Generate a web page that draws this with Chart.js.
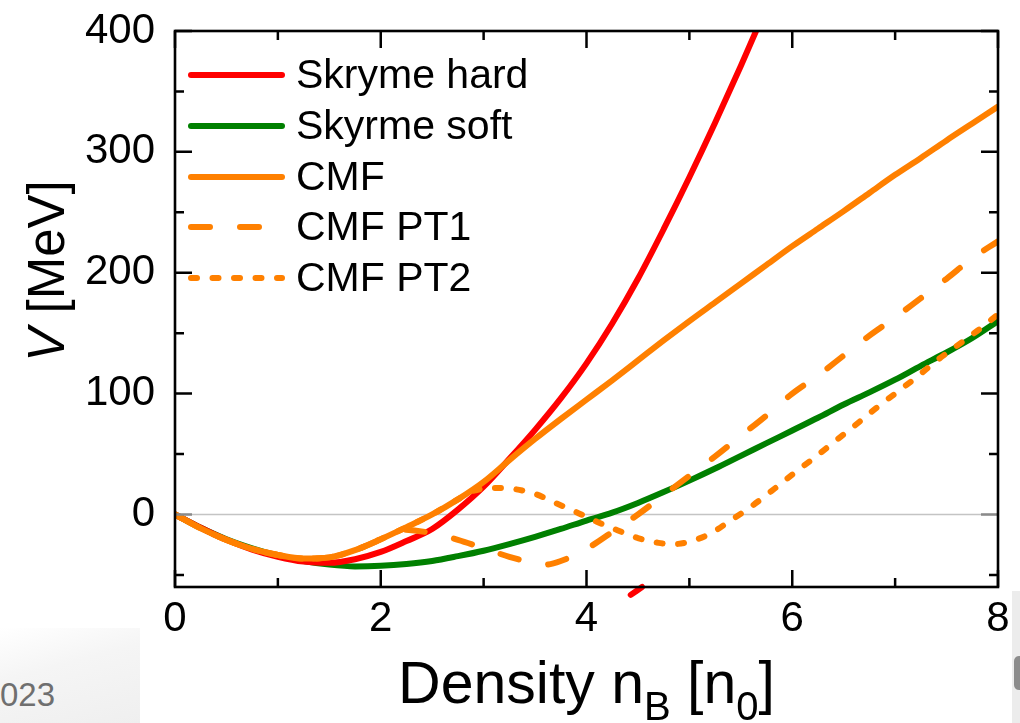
<!DOCTYPE html>
<html>
<head>
<meta charset="utf-8">
<title>Potential V vs density</title>
<script src="https://cdn.jsdelivr.net/npm/chart.js@4.4.1/dist/chart.umd.min.js"></script>
<style>
  html, body { margin: 0; padding: 0; background: #ffffff; }
  #wrap { position: relative; width: 1020px; height: 723px; overflow: hidden; }
  #wrap canvas { position: absolute; left: 0; top: 0; }
  .corner { position: absolute; left: 0; top: 628px; width: 140px; height: 95px;
            background: linear-gradient(165deg, #ffffff 0%, #f5f5f5 40%, #efefef 100%); }
  .year { position: absolute; left: 0; top: 676px; font: 33px 'Liberation Sans', Arial, sans-serif; color: #6f6f6f; }
  .edge { position: absolute; left: 1012px; top: 591px; width: 8px; height: 132px; background: #ececec; }
  .knob { position: absolute; left: 1014px; top: 656px; width: 10px; height: 34px; border-radius: 5px; background: #8c8c8c; }
</style>
</head>
<body>
<div id="wrap">
  <div class="corner"></div>
  <div class="year">023</div>
  <div class="edge"></div>
  <div class="knob"></div>
  <canvas id="chart" width="1020" height="723"></canvas>
</div>
<script>
// Axis tick values
const densityTicks = [0, 2, 4, 6, 8];
const densityMinorTicks = [1, 3, 5, 7];
const potentialTicks = [0, 100, 200, 300, 400];
const potentialMinorTicks = [-50, 50, 150, 250, 350];

// Skyrme hard
const hardX = [0, 0.25, 0.5, 0.75, 1, 1.25, 1.5, 1.75, 2, 2.25, 2.5, 2.75, 3, 3.25, 3.5, 3.75, 4, 4.25, 4.5, 4.75, 5, 5.25, 5.5, 5.75];
const hardV = [0, -11, -21, -29, -35, -39, -40, -37, -31, -22, -12, 4, 23, 46, 70, 96, 125, 158, 195, 236, 279, 324, 371, 420];

// Skyrme hard, lower branch just below the frame
const hardLowX = [4.43, 4.54];
const hardLowV = [-66.5, -60];

// Skyrme soft
const softX = [0, 0.25, 0.5, 0.75, 1, 1.25, 1.5, 1.75, 2, 2.25, 2.5, 2.75, 3, 3.25, 3.5, 3.75, 4, 4.25, 4.5, 4.75, 5, 5.25, 5.5, 5.75, 6, 6.25, 6.5, 6.75, 7, 7.25, 7.5, 7.75, 8];
const softV = [0, -11, -20.5, -28, -34, -38.5, -41.5, -43, -42.5, -41, -38.5, -34.5, -30, -24.5, -18.5, -12, -5, 1.5, 9.5, 18.5, 28, 38, 48.5, 59, 69.5, 80, 91, 101, 111.5, 123, 134, 146, 160];

// CMF
const cmfX = [0, 0.25, 0.5, 0.75, 1, 1.25, 1.5, 1.75, 2, 2.25, 2.5, 2.75, 3, 3.25, 3.5, 3.75, 4, 4.25, 4.5, 4.75, 5, 5.25, 5.5, 5.75, 6, 6.25, 6.5, 6.75, 7, 7.25, 7.5, 7.75, 8];
const cmfV = [0, -11.5, -21, -28.5, -33.5, -36.5, -35.5, -29.5, -20.5, -10.5, 0, 12.5, 27, 45, 62.5, 79, 95, 111, 127.5, 144, 160, 175.5, 191, 206.5, 222, 236.5, 251, 266, 281, 295, 309.5, 323.5, 337.5];

// CMF with phase transition 1
const pt1X = [0, 0.25, 0.5, 0.75, 1, 1.25, 1.5, 1.75, 2, 2.2, 2.5, 2.75, 3, 3.25, 3.5, 3.6, 3.75, 4, 4.25, 4.5, 4.75, 5, 5.25, 5.5, 5.75, 6, 6.25, 6.5, 6.75, 7, 7.25, 7.5, 7.75, 8];
const pt1V = [0, -11.5, -21, -28.5, -33.5, -36.5, -35.5, -29.5, -20.5, -12.5, -15.5, -21, -28, -35, -40.5, -41.5, -38.5, -28.5, -14.5, 0, 16, 32, 48, 65, 82, 100, 115, 131.5, 148, 163, 179, 195, 212, 226];

// CMF with phase transition 2
const pt2X = [0, 0.25, 0.5, 0.75, 1, 1.25, 1.5, 1.75, 2, 2.25, 2.5, 2.75, 2.9, 3.1, 3.3, 3.5, 3.7, 3.9, 4.1, 4.3, 4.5, 4.7, 4.85, 5, 5.2, 5.4, 5.6, 5.8, 6, 6.2, 6.4, 6.6, 6.8, 7, 7.2, 7.4, 7.6, 7.8, 8];
const pt2V = [0, -11.5, -21, -28.5, -33.5, -36.5, -35.5, -29.5, -20.5, -10.5, 0, 12.5, 19.5, 22, 21, 17, 9.5, 2, -6, -13, -19.5, -23.5, -24.5, -22.5, -16, -5, 6.5, 19.5, 33, 46, 59.5, 73, 87, 100, 113, 127, 139.5, 152, 165.5];

const RED = '#ff0000';
const GREEN = '#008000';
const ORANGE = '#ff8000';
const FONT = "'Liberation Sans', Arial, Helvetica, sans-serif";
const LINE_W = 6;

const pts = (xs, ys) => xs.map((x, i) => ({ x: x, y: ys[i] }));

const datasets = [
  { label: 'Skryme hard', data: pts(hardX, hardV), borderColor: RED, order: 4, inLegend: true },
  { label: 'Skyrme soft', data: pts(softX, softV), borderColor: GREEN, order: 5, inLegend: true },
  { label: 'CMF', data: pts(cmfX, cmfV), borderColor: ORANGE, order: 1, inLegend: true },
  { label: 'CMF PT1', data: pts(pt1X, pt1V), borderColor: ORANGE, borderDash: [19, 30], order: 2, inLegend: true },
  { label: 'CMF PT2', data: pts(pt2X, pt2V), borderColor: ORANGE, borderDash: [6, 15.5], order: 3, inLegend: true },
  { label: 'Skryme hard (lower branch)', data: pts(hardLowX, hardLowV), borderColor: RED, order: 6, inLegend: false,
    clip: { left: 0, right: 0, top: 0, bottom: 20 } }
];
datasets.forEach(d => {
  d.borderWidth = LINE_W;
  d.fill = false;
  d.pointRadius = 0;
  d.cubicInterpolationMode = 'monotone';
  d.borderCapStyle = 'round';
  d.borderJoinStyle = 'round';
});

// Zero reference line, boxed frame with inward ticks, legend and axis titles
const framePlugin = {
  id: 'frame',
  beforeDatasetsDraw(chart) {
    const { ctx, chartArea: a, scales: { y } } = chart;
    const y0 = y.getPixelForValue(0);
    ctx.save();
    ctx.strokeStyle = '#c4c4c4';
    ctx.lineWidth = 1.6;
    ctx.beginPath();
    ctx.moveTo(a.left, y0);
    ctx.lineTo(a.right, y0);
    ctx.stroke();
    ctx.restore();
  },
  afterDatasetsDraw(chart) {
    const { ctx, chartArea: a, scales: { x, y } } = chart;
    ctx.save();
    ctx.lineCap = 'butt';
    ctx.lineWidth = 2.5;
    const major = 17, minor = 9;
    const vTick = (v, len) => {
      const p = x.getPixelForValue(v);
      ctx.beginPath();
      ctx.moveTo(p, a.bottom); ctx.lineTo(p, a.bottom - len);
      ctx.moveTo(p, a.top); ctx.lineTo(p, a.top + len);
      ctx.stroke();
    };
    const hTick = (v, len) => {
      const p = y.getPixelForValue(v);
      ctx.beginPath();
      ctx.moveTo(a.left, p); ctx.lineTo(a.left + len, p);
      ctx.moveTo(a.right, p); ctx.lineTo(a.right - len, p);
      ctx.stroke();
    };
    ctx.strokeStyle = '#000';
    densityTicks.forEach(v => vTick(v, major));
    densityMinorTicks.forEach(v => vTick(v, minor));
    potentialTicks.forEach(v => {
      ctx.strokeStyle = v === 0 ? '#8a8a8a' : '#000';
      hTick(v, major);
    });
    ctx.strokeStyle = '#000';
    potentialMinorTicks.forEach(v => hTick(v, minor));
    ctx.lineWidth = 2.6;
    ctx.strokeRect(a.left, a.top, a.right - a.left, a.bottom - a.top);
    ctx.restore();
  },
  afterDraw(chart) {
    const { ctx, chartArea: a } = chart;
    ctx.save();
    // legend
    const rowY = [75, 126, 177, 227, 278];
    const lineX0 = 191, lineX1 = 282;
    ctx.font = '41px ' + FONT;
    ctx.textBaseline = 'middle';
    ctx.textAlign = 'left';
    chart.data.datasets.filter(d => d.inLegend).forEach((d, i) => {
      const yy = rowY[i];
      ctx.strokeStyle = d.borderColor;
      ctx.lineWidth = LINE_W;
      ctx.lineCap = 'round';
      ctx.setLineDash(d.borderDash || []);
      ctx.beginPath();
      ctx.moveTo(lineX0, yy);
      ctx.lineTo(lineX1, yy);
      ctx.stroke();
      ctx.setLineDash([]);
      ctx.fillStyle = '#000';
      ctx.fillText(d.label, 296, yy + 2);
    });

    // x-axis title: Density n_B [n_0]
    const big = 59, small = 40;
    const parts = [
      { t: 'Density n', s: big, dy: 0 },
      { t: 'B', s: small, dy: 17 },
      { t: ' [n', s: big, dy: 0 },
      { t: '0', s: small, dy: 17 },
      { t: ']', s: big, dy: 0 }
    ];
    ctx.textBaseline = 'alphabetic';
    let total = 0;
    parts.forEach(p => { ctx.font = p.s + 'px ' + FONT; p.w = ctx.measureText(p.t).width; total += p.w; });
    let cx = (a.left + a.right) / 2 - total / 2;
    const base = 703;
    parts.forEach(p => {
      ctx.font = p.s + 'px ' + FONT;
      ctx.fillText(p.t, cx, base + p.dy);
      cx += p.w;
    });

    // y-axis title: V [MeV] with italic V
    ctx.translate(64, 271);
    ctx.rotate(-Math.PI / 2);
    const ySize = 51;
    ctx.font = 'italic ' + ySize + 'px ' + FONT;
    const wV = ctx.measureText('V').width;
    ctx.font = ySize + 'px ' + FONT;
    const wRest = ctx.measureText(' [MeV]').width;
    let sx = -(wV + wRest) / 2;
    ctx.font = 'italic ' + ySize + 'px ' + FONT;
    ctx.fillText('V', sx, 0);
    ctx.font = ySize + 'px ' + FONT;
    ctx.fillText(' [MeV]', sx + wV, 0);
    ctx.restore();
  }
};

new Chart(document.getElementById('chart'), {
  type: 'line',
  data: { datasets: datasets },
  options: {
    responsive: false,
    animation: false,
    devicePixelRatio: 1,
    layout: { padding: { left: 0, top: 31, right: 22, bottom: 0 } },
    plugins: { legend: { display: false }, tooltip: { enabled: false } },
    scales: {
      x: {
        type: 'linear', min: 0, max: 8,
        grid: { display: false, drawTicks: false },
        border: { display: false },
        afterBuildTicks: s => { s.ticks = densityTicks.map(v => ({ value: v })); },
        afterFit: s => { s.height = 136; s.paddingLeft = 0; s.paddingRight = 0; },
        ticks: { font: { family: FONT, size: 42 }, color: '#000', padding: 7, maxRotation: 0, autoSkip: false }
      },
      y: {
        type: 'linear', min: -60, max: 400,
        grid: { display: false, drawTicks: false },
        border: { display: false },
        afterBuildTicks: s => { s.ticks = potentialTicks.map(v => ({ value: v })); },
        afterFit: s => { s.width = 175; s.paddingTop = 0; s.paddingBottom = 0; },
        ticks: { font: { family: FONT, size: 42 }, color: '#000', padding: 20, autoSkip: false }
      }
    }
  },
  plugins: [framePlugin]
});
</script>
</body>
</html>
